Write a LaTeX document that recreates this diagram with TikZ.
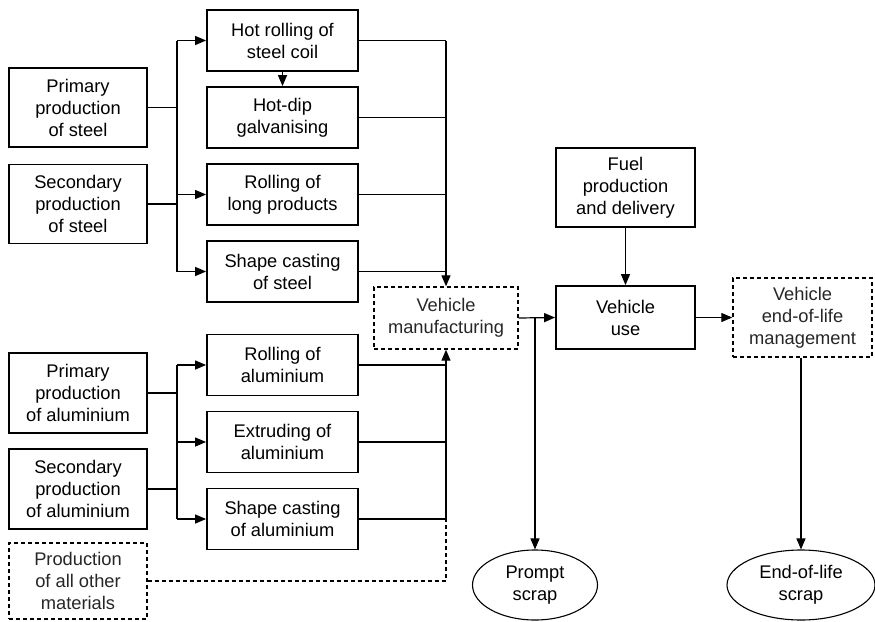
\documentclass[tikz,border=0pt]{standalone}
\usepackage{fontspec}
\setmainfont{Liberation Sans}
\usetikzlibrary{arrows.meta,shapes.geometric}
\begin{document}
\begin{tikzpicture}[x=1pt,y=-1pt,
  txt/.style={font=\fontsize{18.3}{22}\selectfont, align=center, inner sep=0pt},
  box/.style={txt, draw, line width=1.8pt, minimum width=#1},
  srcbox/.style={box=138pt, minimum height=79pt},
  procbox/.style={box=151pt, minimum height=61pt},
  dbox/.style={txt, draw, line width=1.4pt, dash pattern=on 4pt off 3pt, text=black!85},
  scrapnode/.style={txt, draw, ellipse, line width=1.1pt, minimum height=70pt},
  link/.style={line width=1.2pt},
  arr/.style={link, -{Triangle[length=11pt,width=9pt]}},
  dlink/.style={line width=1.1pt, dash pattern=on 4pt off 3pt}]
\useasboundingbox (0,0) rectangle (875,621);

% material production
\node[srcbox] (ps) at (78,107.5) {Primary\\production\\of steel};
\node[srcbox] (ss) at (78,204) {Secondary\\production\\of steel};
\node[srcbox, minimum height=80pt] (pa) at (78,393) {Primary\\production\\of aluminium};
\node[srcbox, minimum height=80pt] (sa) at (78,489) {Secondary\\production\\of aluminium};
\node[dbox, minimum width=138pt, minimum height=76pt] (oth) at (78,581) {Production\\of all other\\materials};

% semi-finished products
\node[procbox] (hr)  at (282.5,40.5) {Hot rolling of\\steel coil};
\node[procbox] (hd)  at (282.5,117.5) {Hot-dip\\galvanising};
\node[procbox] (rl)  at (282.5,194.5) {Rolling of\\long products};
\node[procbox] (sc)  at (282.5,271.5) {Shape casting\\of steel};
\node[procbox] (ra)  at (282.5,365) {Rolling of\\aluminium};
\node[procbox] (ea)  at (282.5,442) {Extruding of\\aluminium};
\node[procbox] (sca) at (282.5,519) {Shape casting\\of aluminium};

% vehicle life cycle
\node[dbox, minimum width=144pt, minimum height=62pt] (vm) at (446,318) {Vehicle\\manufacturing};
\node[box=139pt, minimum height=79pt] (fuel) at (625.5,187.5) {Fuel\\production\\and delivery};
\node[box=139pt, minimum height=63pt] (vu) at (625.5,317.5) {Vehicle\\use};
\node[dbox, minimum width=139pt, minimum height=79pt] (eol) at (802.5,317.5) {Vehicle\\end-of-life\\management};
\node[scrapnode, minimum width=125pt] (prs) at (535,585) {Prompt\\scrap};
\node[scrapnode, minimum width=148pt] (els) at (801,585) {End-of-life\\scrap};

% steel distribution bus
\coordinate (sx) at (177,0);
\draw[link] (ps.east) -- (ps.east -| sx);
\draw[link] (ss.east) -- (ss.east -| sx);
\draw[link] (sx |- hr.west) -- (sx |- sc.west);
\draw[arr] (sx |- hr.west) -- (hr.west);
\draw[arr] (sx |- rl.west) -- (rl.west);
\draw[arr] (sx |- sc.west) -- (sc.west);
\draw[arr] (hr.south) -- (hd.north);

% aluminium distribution bus
\draw[link] (pa.east) -- (pa.east -| sx);
\draw[link] (sa.east) -- (sa.east -| sx);
\draw[link] (sx |- ra.west) -- (sx |- sca.west);
\draw[arr] (sx |- ra.west) -- (ra.west);
\draw[arr] (sx |- ea.west) -- (ea.west);
\draw[arr] (sx |- sca.west) -- (sca.west);

% collection into vehicle manufacturing
\draw[link] (hr.east) -- (hr.east -| vm.north);
\draw[link] (hd.east) -- (hd.east -| vm.north);
\draw[link] (rl.east) -- (rl.east -| vm.north);
\draw[link] (sc.east) -- (sc.east -| vm.north);
\draw[arr] (hr.east -| vm.north) -- (vm.north);
\draw[link] (ra.east) -- (ra.east -| vm.south);
\draw[link] (ea.east) -- (ea.east -| vm.south);
\draw[link] (sca.east) -- (sca.east -| vm.south);
\draw[arr] (sca.east -| vm.south) -- (vm.south);
\draw[dlink] (oth.east) -- (oth.east -| vm.south) -- (sca.east -| vm.south);

% vehicle flows
\draw[arr] (vm.east) -- (vu.west);
\draw[arr] (prs.north |- vm.east) -- (prs.north);
\draw[arr] (fuel.south) -- (vu.north);
\draw[arr] (vu.east) -- (eol.west);
\draw[arr] (eol.south -| els.north) -- (els.north);
\end{tikzpicture}
\end{document}
